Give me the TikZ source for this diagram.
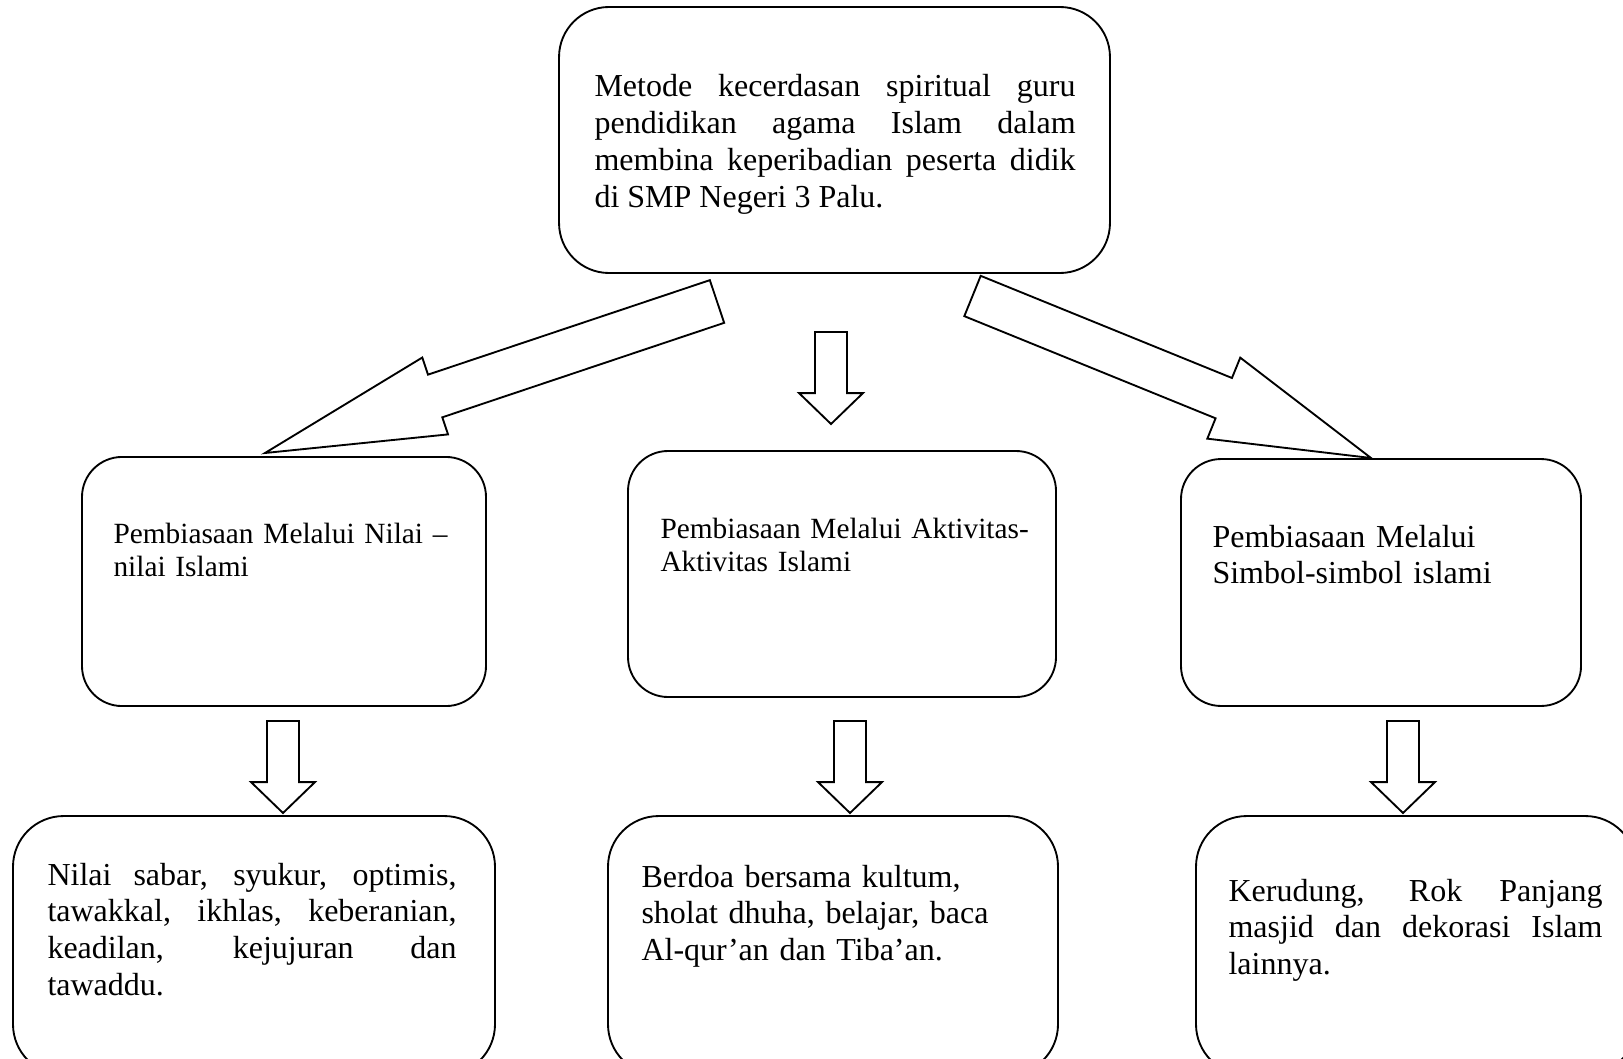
\documentclass[tikz,border=0pt]{standalone}
\usepackage{fontspec}
\setmainfont{Liberation Serif}
\usetikzlibrary{calc}
\hyphenpenalty=10000
\tikzset{
  box/.style={draw,line width=0.7pt,rounded corners=15pt,inner sep=0pt},
  txt/.style={anchor=base west,inner sep=0pt,font=\fontsize{12}{13.8}\selectfont},
  txtsmall/.style={txt,font=\fontsize{11}{12.65}\selectfont},
  blockarr/.style={draw,line width=0.7pt,fill=white,line join=miter}
}
% block arrow: tail, tip, half shaft, half head, head length
\newcommand\blockarrow[5]{%
  \coordinate (neck) at ($(#2)!#5!(#1)$);
  \draw[blockarr] ($(#1)!#3!90:(#2)$) -- ($(neck)!#3!90:(#2)$) -- ($(neck)!#4!90:(#2)$) -- (#2)
    -- ($(neck)!#4!-90:(#2)$) -- ($(neck)!#3!-90:(#2)$) -- ($(#1)!#3!-90:(#2)$) -- cycle;
}
\begin{document}
\begin{tikzpicture}[x=0.375pt,y=-0.375pt]
  \useasboundingbox (0,0) rectangle (1623,1059);
  \clip (0,0) rectangle (1623,1059);
  % boxes
  \node[box,rounded corners=18.75pt,minimum width=206.6pt,minimum height=99.75pt] (metode) at (834.5,140) {};
  \node[box,minimum width=151.5pt,minimum height=93.4pt] (nilai) at (284,581.5) {};
  \node[box,minimum width=160.5pt,minimum height=92.25pt] (aktivitas) at (842,574) {};
  \node[box,minimum width=150pt,minimum height=92.6pt] (simbol) at (1381,582.5) {};
  \node[box,rounded corners=19pt,minimum width=180.75pt,minimum height=97.1pt] (nilaiisi) at (254,945.5) {};
  \node[box,rounded corners=19pt,minimum width=168.75pt,minimum height=97.1pt] (aktivitasisi) at (833,945.5) {};
  \node[box,rounded corners=19pt,minimum width=165pt,minimum height=97.1pt] (simbolisi) at (1416,945.5) {};
  % texts
  \node[txt,text width=180.4pt,align=justify] (metode-t) at (594,97)
    {Metode kecerdasan spiritual guru\linebreak pendidikan agama Islam dalam\linebreak membina keperibadian peserta didik\linebreak di SMP Negeri 3 Palu.};
  \node[txtsmall,text width=140pt,align=left] (nilai-t) at (113,543) {Pembiasaan Melalui Nilai --\\nilai Islami};
  \node[txtsmall,text width=150pt,align=left] (aktivitas-t) at (660,538) {Pembiasaan Melalui Aktivitas-\\Aktivitas Islami};
  \node[txt,text width=140pt,align=left] (simbol-t) at (1212,547) {Pembiasaan Melalui\\Simbol-simbol islami};
  \node[txt,text width=153.4pt,align=justify] (nilaiisi-t) at (47,885)
    {Nilai sabar, syukur, optimis,\linebreak tawakkal, ikhlas, keberanian,\linebreak keadilan, kejujuran dan\linebreak tawaddu.};
  \node[txt,text width=160pt,align=left] (aktivitasisi-t) at (641,887)
    {Berdoa bersama kultum,\\sholat dhuha, belajar, baca\\Al-qur’an dan Tiba’an.};
  \node[txt,text width=140.25pt,align=justify] (simbolisi-t) at (1228,901)
    {Kerudung, Rok Panjang\linebreak masjid dan dekorasi Islam\linebreak lainnya.};
  % arrows
  \coordinate (a1s) at (717,301.5);  \coordinate (a1e) at (265,453);
  \coordinate (a2s) at (831,332);    \coordinate (a2e) at (831,424);
  \coordinate (a3s) at (972.5,296);  \coordinate (a3e) at (1371,458);
  \coordinate (b1s) at (283,721);    \coordinate (b1e) at (283,813);
  \coordinate (b2s) at (850,721);    \coordinate (b2e) at (850,813);
  \coordinate (b3s) at (1403,721);   \coordinate (b3e) at (1403,813);
  \blockarrow{a1s}{a1e}{8.44pt}{15.2pt}{67.3pt}
  \blockarrow{a2s}{a2e}{6pt}{12pt}{11.6pt}
  \blockarrow{a3s}{a3e}{8.16pt}{16.4pt}{59.6pt}
  \blockarrow{b1s}{b1e}{6pt}{12pt}{11.6pt}
  \blockarrow{b2s}{b2e}{6pt}{12pt}{11.6pt}
  \blockarrow{b3s}{b3e}{6pt}{12pt}{11.6pt}
\end{tikzpicture}
\end{document}
